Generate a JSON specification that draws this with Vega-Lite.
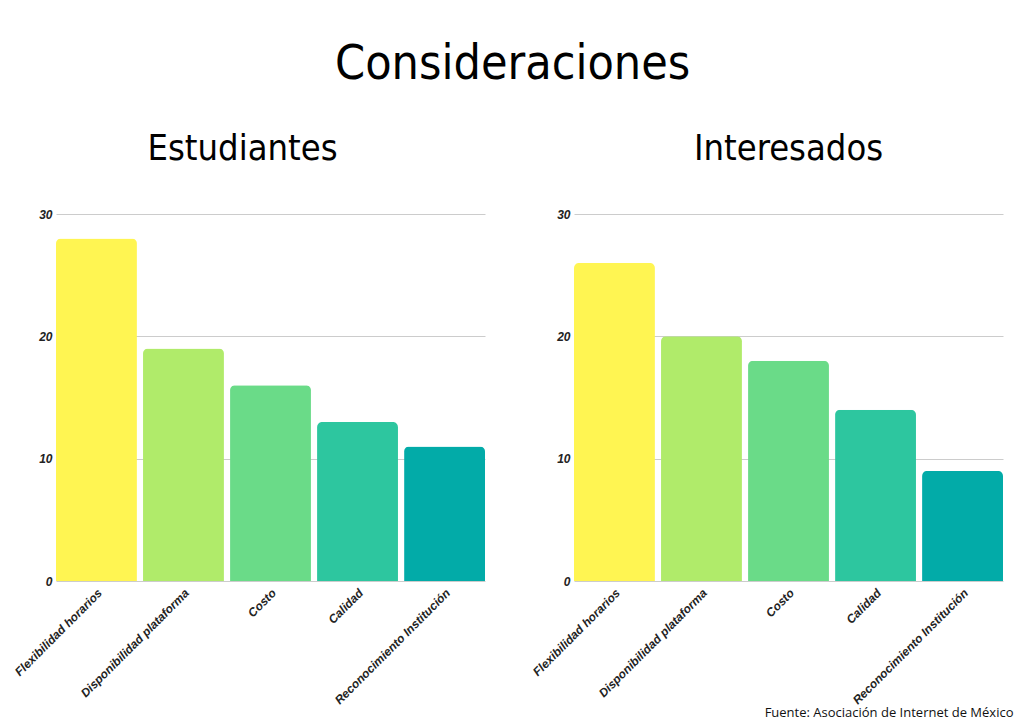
{
  "$schema": "https://vega.github.io/schema/vega-lite/v6.json",
  "background": "white",
  "padding": {"left": 12, "top": 41, "right": 10, "bottom": 8},
  "title": {
    "text": "Consideraciones",
    "font": "DejaVu Sans Condensed",
    "fontSize": 48,
    "fontWeight": "normal",
    "color": "#000000",
    "anchor": "middle",
    "offset": 42
  },
  "data": {
    "values": [
      {"grupo": "Estudiantes", "factor": "Flexibilidad horarios", "valor": 28},
      {"grupo": "Estudiantes", "factor": "Disponibilidad plataforma", "valor": 19},
      {"grupo": "Estudiantes", "factor": "Costo", "valor": 16},
      {"grupo": "Estudiantes", "factor": "Calidad", "valor": 13},
      {"grupo": "Estudiantes", "factor": "Reconocimiento Institución", "valor": 11},
      {"grupo": "Interesados", "factor": "Flexibilidad horarios", "valor": 26},
      {"grupo": "Interesados", "factor": "Disponibilidad plataforma", "valor": 20},
      {"grupo": "Interesados", "factor": "Costo", "valor": 18},
      {"grupo": "Interesados", "factor": "Calidad", "valor": 14},
      {"grupo": "Interesados", "factor": "Reconocimiento Institución", "valor": 9}
    ]
  },
  "spacing": 44,
  "hconcat": [
    {
      "width": 429,
      "height": 367,
      "title": {"text": "Estudiantes", "frame": "group", "dx": -28},
      "transform": [{"filter": "datum.grupo === 'Estudiantes'"}],
      "mark": {"type": "bar", "cornerRadiusTopLeft": 5, "cornerRadiusTopRight": 5},
      "encoding": {
        "x": {
          "field": "factor",
          "type": "nominal",
          "sort": null,
          "scale": {"paddingInner": 0.07, "paddingOuter": 0},
          "axis": {"title": null}
        },
        "y": {
          "field": "valor",
          "type": "quantitative",
          "scale": {"domain": [0, 30]},
          "axis": {"title": null, "values": [0, 10, 20, 30]}
        },
        "color": {
          "field": "factor",
          "type": "nominal",
          "sort": null,
          "scale": {"range": ["#FFF552", "#B0EB6A", "#6ADB88", "#2DC69F", "#02ABA8"]},
          "legend": null
        }
      }
    },
    {
      "width": 429,
      "height": 367,
      "title": {"text": "Interesados", "frame": "group"},
      "transform": [{"filter": "datum.grupo === 'Interesados'"}],
      "mark": {"type": "bar", "cornerRadiusTopLeft": 5, "cornerRadiusTopRight": 5},
      "encoding": {
        "x": {
          "field": "factor",
          "type": "nominal",
          "sort": null,
          "scale": {"paddingInner": 0.07, "paddingOuter": 0},
          "axis": {
            "title": "Fuente: Asociación de Internet de México",
            "titleAnchor": "end",
            "titleAlign": "right",
            "titleFont": "Open Sans",
            "titleFontSize": 13,
            "titleFontWeight": "normal",
            "titleColor": "#111111",
            "titleX": 439,
            "titlePadding": 0
          }
        },
        "y": {
          "field": "valor",
          "type": "quantitative",
          "scale": {"domain": [0, 30]},
          "axis": {"title": null, "values": [0, 10, 20, 30]}
        },
        "color": {
          "field": "factor",
          "type": "nominal",
          "sort": null,
          "scale": {"range": ["#FFF552", "#B0EB6A", "#6ADB88", "#2DC69F", "#02ABA8"]},
          "legend": null
        }
      }
    }
  ],
  "config": {
    "view": {"stroke": null},
    "title": {
      "font": "DejaVu Sans Condensed",
      "fontSize": 36,
      "fontWeight": "normal",
      "color": "#000000",
      "offset": 40
    },
    "axisX": {
      "labelAngle": -45,
      "labelFont": "Liberation Sans",
      "labelFontSize": 12,
      "labelFontWeight": "bold",
      "labelFontStyle": "italic",
      "labelColor": "#222222",
      "ticks": false,
      "domain": false,
      "labelPadding": 6
    },
    "axisY": {
      "labelFont": "Liberation Sans",
      "labelFontSize": 12,
      "labelFontWeight": "bold",
      "labelFontStyle": "italic",
      "labelColor": "#222222",
      "ticks": false,
      "domain": false,
      "gridColor": "#cccccc",
      "labelPadding": 4
    }
  }
}
